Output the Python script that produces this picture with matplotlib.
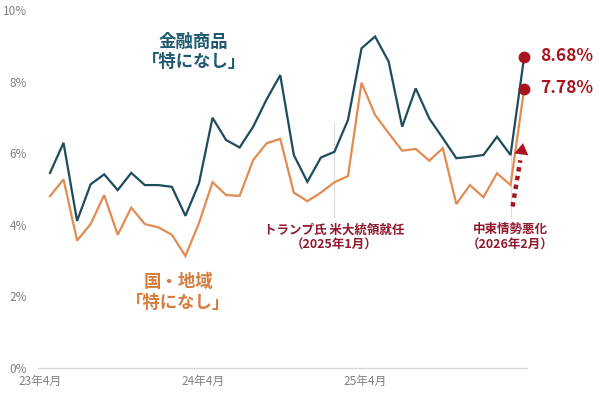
import matplotlib
matplotlib.use("Agg")
import matplotlib.pyplot as plt
import numpy as np

plt.rcParams['font.family'] = ['Noto Sans CJK JP', 'DejaVu Sans']

# ---- data (monthly, 2023-04 .. 2026-03) ----
months = ["23年4月", "23年5月", "23年6月", "23年7月", "23年8月", "23年9月", "23年10月", "23年11月",
          "23年12月", "24年1月", "24年2月", "24年3月", "24年4月", "24年5月", "24年6月", "24年7月",
          "24年8月", "24年9月", "24年10月", "24年11月", "24年12月", "25年1月", "25年2月", "25年3月",
          "25年4月", "25年5月", "25年6月", "25年7月", "25年8月", "25年9月", "25年10月", "25年11月",
          "25年12月", "26年1月", "26年2月", "26年3月"]
financial_none = [5.45, 6.29, 4.11, 5.13, 5.41, 4.97, 5.45, 5.11, 5.11, 5.06,
                  4.25, 5.16, 6.99, 6.37, 6.16, 6.74, 7.51, 8.18, 5.95, 5.20,
                  5.88, 6.04, 6.93, 8.93, 9.26, 8.56, 6.74, 7.81, 6.97, 6.42,
                  5.86, 5.90, 5.95, 6.46, 5.95, 8.68]
region_none = [4.80, 5.27, 3.56, 4.02, 4.83, 3.72, 4.48, 4.02, 3.93, 3.72,
               3.13, 4.05, 5.19, 4.83, 4.81, 5.81, 6.28, 6.40, 4.90, 4.66,
               4.90, 5.19, 5.36, 7.97, 7.07, 6.56, 6.07, 6.12, 5.79, 6.14,
               4.58, 5.11, 4.77, 5.44, 5.11, 7.78]
xtick_labels = ["23年4月", "24年4月", "25年4月"]
ytick_values = [0, 2, 4, 6, 8, 10]
events = [("トランプ氏 米大統領就任\n（2025年1月）", "25年1月"),
          ("中東情勢悪化\n（2026年2月）", "26年2月")]

# ---- styles ----
c_blue = "#1d4c5c"
c_blue_txt = "#1f5a70"
c_orange = "#e08c52"
c_orange_txt = "#d47d3c"
c_red_txt = "#8f1a2e"
c_red = "#a8141f"
c_gray = "#808080"

fig = plt.figure(figsize=(6.0, 3.96), dpi=100)
ax = fig.add_axes([0.0633, 0.0707, 0.8147, 0.904])

x = np.arange(len(months))
ax.plot(x, financial_none, color=c_blue, lw=1.6, zorder=3, solid_joinstyle='miter')
ax.plot(x, region_none, color=c_orange, lw=1.6, zorder=3, solid_joinstyle='miter')

# end markers and labels
ax.plot([x[-1]], [financial_none[-1]], 'o', color=c_red, ms=7.5, zorder=5, clip_on=False)
ax.plot([x[-1]], [region_none[-1]], 'o', color=c_red, ms=7.5, zorder=5, clip_on=False)
ax.text(x[-1] + 1.2, financial_none[-1] + 0.03, f"{financial_none[-1]:.2f}%", color=c_red,
        fontsize=12.5, fontweight='bold', va='center', ha='left', clip_on=False)
ax.text(x[-1] + 1.2, region_none[-1] + 0.03, f"{region_none[-1]:.2f}%", color=c_red,
        fontsize=12.5, fontweight='bold', va='center', ha='left', clip_on=False)

# series labels
ax.text(10.6, 8.84, "金融商品\n「特になし」", color=c_blue_txt, fontsize=12.5,
        fontweight='bold', ha='center', va='center', linespacing=1.15)
ax.text(9.45, 2.11, "国・地域\n「特になし」", color=c_orange_txt, fontsize=12.5,
        fontweight='bold', ha='center', va='center', linespacing=1.2)

# event markers
vl_tops = [6.84, 6.0]
for (txt, m), top in zip(events, vl_tops):
    xi = months.index(m)
    ax.plot([xi, xi], [4.22, top], color="#dcdcdc", lw=0.8, zorder=1)
    ax.text(xi, 3.65, txt, color=c_red_txt, fontsize=9, fontweight='bold',
            ha='center', va='center', linespacing=1.2)

# dotted arrow
ax.plot([34.15, 34.72], [4.51, 5.8], color=c_red, lw=3.2,
        linestyle=(0, (1.0, 1.0)), dash_capstyle='butt', zorder=4)
ax.annotate("", xy=(34.92, 6.28), xytext=(34.7, 5.72),
            arrowprops=dict(arrowstyle='-|>,head_length=0.8,head_width=0.5',
                            color=c_red, lw=0.1, shrinkA=0, shrinkB=0), zorder=4)

# axes styling
ax.set_xlim(-0.886, 35.2)
ax.set_ylim(0, 10)
ax.set_yticks(ytick_values)
ax.set_yticklabels([f"{v}%" for v in ytick_values])
ax.set_xticks([-0.7, 11.3, 23.3])
ax.set_xticklabels(xtick_labels)
ax.tick_params(axis='both', length=0, colors=c_gray, labelsize=8.5)
ax.tick_params(axis='y', pad=8)
ax.tick_params(axis='x', pad=5)
for s in ['top', 'right', 'left']:
    ax.spines[s].set_visible(False)
ax.spines['bottom'].set_color("#d9d9d9")
ax.spines['bottom'].set_linewidth(1.0)

fig.savefig("out.png", dpi=100)
